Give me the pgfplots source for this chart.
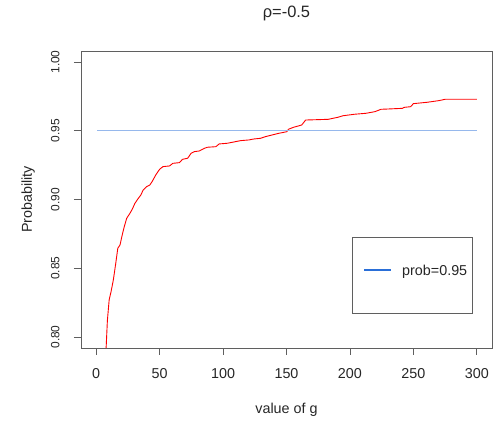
\documentclass[border=0pt]{standalone}
\usepackage{fontspec}
\setmainfont{Liberation Sans}
\usepackage{pgfplots}
\usepackage{pgfplotstable}
\pgfplotsset{compat=1.18}
\usetikzlibrary{calc}
\definecolor{refblue}{RGB}{150,184,236}
\definecolor{legblue}{RGB}{42,111,216}
\definecolor{axgray}{RGB}{95,95,95}

\pgfplotstableread{
g p
1 0.50
3 0.64
5 0.72
7 0.775
7.8 0.792
8.8 0.812
10.2 0.827
11.7 0.833
13.5 0.8415
15.4 0.8536
17.0 0.8645
18.75 0.8669
20.5 0.8742
22.1 0.8802
24.0 0.8863
26.6 0.8900
28.4 0.8929
30.5 0.8972
32.6 0.9001
35.2 0.9033
37.0 0.9069
39.6 0.9093
42.2 0.9105
44.0 0.9129
45.5 0.9154
46.9 0.9178
50.0 0.9220
52.6 0.9239
57.8 0.9244
60.4 0.9263
65.6 0.9268
68.0 0.9292
72.1 0.9300
74.8 0.9336
77.3 0.9348
81.3 0.9353
85.2 0.9372
87.7 0.9380
94.3 0.9384
96.9 0.9404
103.4 0.9409
113.8 0.9428
120.3 0.9433
124.2 0.9440
129.5 0.9445
133.4 0.9457
138.5 0.9469
143.8 0.9481
150.2 0.9493
151.6 0.9511
155.5 0.9525
159.4 0.9535
162.0 0.9542
165.1 0.9578
182.8 0.9583
190.6 0.9598
194.5 0.9609
203.7 0.9620
212.7 0.9627
219.8 0.9639
224.5 0.9656
229.7 0.9658
241.4 0.9663
242.7 0.9670
247.9 0.9675
250.0 0.9697
260.9 0.9707
270.1 0.9719
275.2 0.9729
300.0 0.9729
}\curve

\begin{document}
\begin{tikzpicture}
\begin{axis}[
  name=ax,
  scale only axis, width=411bp, height=297bp,
  xmin=-12, xmax=312, ymin=0.792, ymax=1.008,
  axis line style={axgray, line width=0.8bp},
  xtick={0,50,100,150,200,250,300},
  ytick={0.80,0.85,0.90,0.95,1.00},
  tick align=outside, xtick pos=left, ytick pos=left,
  major tick length=7bp,
  tick style={axgray, line width=0.8bp},
  /pgf/number format/assume math mode=true,
  xticklabel style={font=\fontsize{14.4}{16}\selectfont, text=black!85, anchor=base},
  xticklabel shift=24bp,
  yticklabel style={/pgf/number format/fixed, /pgf/number format/fixed zerofill, /pgf/number format/precision=2,
    font=\fontsize{12}{14}\selectfont, text=black!85, rotate=90, anchor=base},
  yticklabel shift=14.5bp,
  xlabel={value of g},
  xlabel style={font=\fontsize{14.4}{16}\selectfont, text=black!85, at={(axis description cs:0.5,0)}, anchor=base, yshift=-66bp},
  ylabel={Probability},
  ylabel style={font=\fontsize{14.4}{16}\selectfont, text=black!85, at={(axis description cs:0,0.5)}, rotate=0, anchor=base, yshift=49bp},
  title={ρ=-0.5},
  title style={font=\fontsize{16.5}{19}\selectfont, text=black!85, at={(axis description cs:0.5,1)}, anchor=base, yshift=27.7bp},
]
\addplot[red, line width=0.9bp] table[x=g, y=p]{\curve};
\addplot[refblue, line width=1.3bp] coordinates {(1,0.95) (300,0.95)};
\end{axis}
% legend box (R style)
\draw[axgray, line width=0.8bp] ($(ax.south west)+(271bp,35bp)$) rectangle ++(120bp,76bp);
\draw[legblue, line width=1.3bp] ($(ax.south west)+(283bp,78bp)$) -- ++(27bp,0bp);
\node[anchor=base west, inner sep=0pt, font=\fontsize{14.4}{16}\selectfont, text=black!85]
  at ($(ax.south west)+(321bp,72.5bp)$) {prob=0.95};
\path ($(ax.south west)+(-81bp,-77bp)$) rectangle ($(ax.north east)+(3bp,51bp)$);
\end{tikzpicture}
\end{document}
